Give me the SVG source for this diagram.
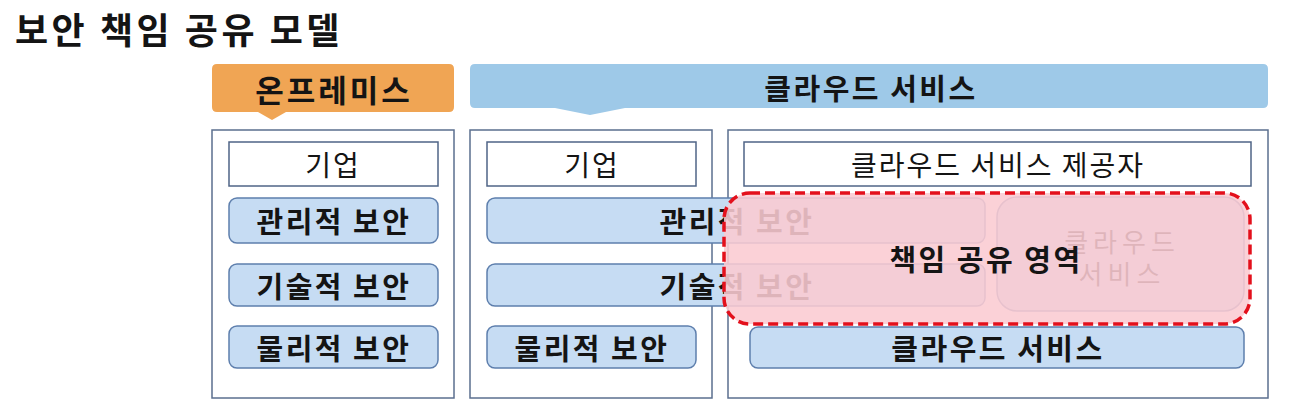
<svg xmlns="http://www.w3.org/2000/svg" width="1299" height="419" viewBox="0 0 1299 419">
<style>
text{font-family:"Noto Sans CJK KR","Noto Sans",sans-serif;fill:#141414;text-anchor:middle;dominant-baseline:central}
.b{font-weight:bold}
.panel{fill:#fff;stroke:#5b6f8f;stroke-width:1.5}
.wbox{fill:#fff;stroke:#4f6486;stroke-width:1.5}
.blue{fill:#c6dcf3;stroke:#5e7fad;stroke-width:1.5}
.t26{font-size:28px;letter-spacing:2px}
.t28{font-size:29px;letter-spacing:2.5px}
</style>
<rect width="1299" height="419" fill="#fff"/>
<g id="title"><text x="15" y="28" class="b" style="font-size:36px;letter-spacing:3.5px;text-anchor:start">보안 책임 공유 모델</text></g>
<g id="onprem-header">
<path d="M217 64 H449 Q454 64 454 69 V107 Q454 112 449 112 H286 L272 120 L258 112 H217 Q212 112 212 107 V69 Q212 64 217 64 Z" fill="#f0a554"/>
<text x="334" y="88" class="b" style="font-size:31px;letter-spacing:3px">온프레미스</text>
</g>
<g id="cloud-header">
<path d="M475 64 H1263 Q1268 64 1268 69 V103 Q1268 108 1263 108 H625 L590 115 L555 108 H475 Q470 108 470 103 V69 Q470 64 475 64 Z" fill="#9ec9e8"/>
<text x="871" y="87" class="b t28">클라우드 서비스</text>
</g>
<g id="onprem-panel">
<rect x="212" y="130" width="242" height="268" class="panel"/>
<rect x="229" y="142" width="209" height="44" class="wbox"/>
<text x="333" y="164" class="t26">기업</text>
</g>
<g id="onprem-admin"><rect x="229" y="198" width="209" height="45" rx="8" class="blue"/><text x="334" y="220" class="b t28">관리적 보안</text></g>
<g id="onprem-tech"><rect x="229" y="264" width="209" height="42" rx="8" class="blue"/><text x="334" y="285" class="b t28">기술적 보안</text></g>
<g id="onprem-phys"><rect x="229" y="326" width="209" height="42" rx="8" class="blue"/><text x="334" y="347" class="b t28">물리적 보안</text></g>
<g id="cloud-customer-panel">
<rect x="470" y="130" width="242" height="268" class="panel"/>
<rect x="487" y="142" width="209" height="44" class="wbox"/>
<text x="592" y="164" class="t26">기업</text>
</g>
<g id="cloud-provider-panel">
<rect x="728" y="130" width="540" height="268" class="panel"/>
<rect x="744" y="142" width="507" height="44" class="wbox"/>
<text x="998" y="164" class="t26">클라우드 서비스 제공자</text>
</g>
<g id="cloud-admin"><rect x="487" y="198" width="498" height="45" rx="8" class="blue"/><text x="737" y="220" class="b t28">관리적 보안</text></g>
<g id="cloud-tech"><rect x="487" y="264" width="498" height="42" rx="8" class="blue"/><text x="737" y="285" class="b t28">기술적 보안</text></g>
<g id="cloud-phys"><rect x="487" y="326" width="209" height="42" rx="8" class="blue"/><text x="592" y="347" class="b t28">물리적 보안</text></g>
<g id="cloud-service-inner"><rect x="997" y="197" width="247" height="114" rx="20" class="blue"/><text style="font-size:26px;letter-spacing:5px"><tspan x="1122" y="240">클라우드</tspan><tspan x="1122" y="272">서비스</tspan></text></g>
<g id="cloud-service"><rect x="750" y="327" width="494" height="41" rx="8" class="blue"/><text x="998" y="347" class="b t28">클라우드 서비스</text></g>
<g id="shared-zone">
<rect x="724" y="193" width="526" height="131" rx="26" fill="#fbcbd1" fill-opacity="0.88" stroke="#e3101c" stroke-width="3.5" stroke-dasharray="10 5"/>
<text x="986" y="258" class="b t28">책임 공유 영역</text>
</g>
<g id="connectors"/>
</svg>
